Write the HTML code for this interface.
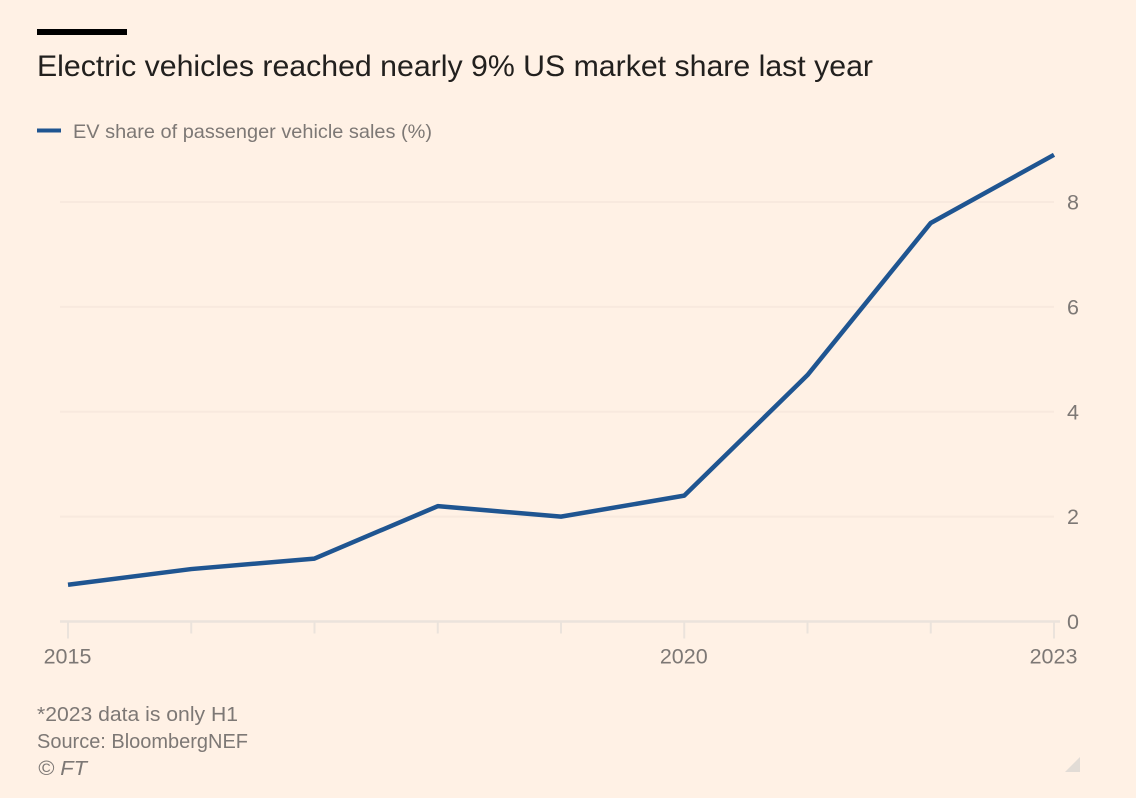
<!DOCTYPE html>
<html lang="en">
<head>
<meta charset="utf-8">
<title>Electric vehicles reached nearly 9% US market share last year</title>
<style>
html,body{margin:0;padding:0;background:#fff1e5;}
body{width:1136px;height:798px;overflow:hidden;position:relative;font-family:"Liberation Sans",sans-serif;}
svg{position:absolute;left:0;top:0;display:block;}
text{font-family:"Liberation Sans",sans-serif;}
</style>
</head>
<body>
<svg id="chart" width="1136" height="798" viewBox="0 0 1136 798" xmlns="http://www.w3.org/2000/svg">
  <rect width="1136" height="798" fill="#fff1e5"/>
  <rect x="37" y="29" width="90" height="6" fill="#000"/>
  <text x="37" y="76" font-size="29.5" fill="#22201e" textLength="836" lengthAdjust="spacingAndGlyphs">Electric vehicles reached nearly 9% US market share last year</text>
  <line x1="37" y1="130.5" x2="61" y2="130.5" stroke="#1f5591" stroke-width="4"/>
  <text x="73" y="138" font-size="19.5" fill="#7d7875" textLength="359" lengthAdjust="spacingAndGlyphs">EV share of passenger vehicle sales (%)</text>
  <g id="grid"></g>
  <g id="axes"></g>
  <path id="series" fill="none" stroke="#1f5591" stroke-width="4.5" stroke-linejoin="round"></path>
  <text x="37" y="721" font-size="20" fill="#7d7875" textLength="201" lengthAdjust="spacingAndGlyphs">*2023 data is only H1</text>
  <text x="37" y="748" font-size="20" fill="#7d7875" textLength="211" lengthAdjust="spacingAndGlyphs">Source: BloombergNEF</text>
  <text x="38" y="775" font-size="20" font-style="italic" fill="#7d7875" textLength="49" lengthAdjust="spacingAndGlyphs">© FT</text>
  <polygon points="1065,772 1080,772 1080,757" fill="#e2dcd6"/>
</svg>
<script>
const years = [2015, 2016, 2017, 2018, 2019, 2020, 2021, 2022, 2023];
const evShare = [0.7, 1.0, 1.2, 2.2, 2.0, 2.4, 4.7, 7.6, 8.9];
const yTicks = [0, 2, 4, 6, 8];
const xLabels = [2015, 2020, 2023];

const svgNS = 'http://www.w3.org/2000/svg';
const xScale = function (year) {
  return 68 + (year - 2015) * (1054 - 68) / (2023 - 2015);
};
const yScale = function (value) {
  return 621.5 - value * (621.5 - 202) / 8;
};
const gridGroup = document.getElementById('grid');
const axesGroup = document.getElementById('axes');

function makeLine(x1, y1, x2, y2, colour, width) {
  const line = document.createElementNS(svgNS, 'line');
  line.setAttribute('x1', x1);
  line.setAttribute('y1', y1);
  line.setAttribute('x2', x2);
  line.setAttribute('y2', y2);
  line.setAttribute('stroke', colour);
  line.setAttribute('stroke-width', width);
  return line;
}

function makeText(x, y, content, anchor) {
  const label = document.createElementNS(svgNS, 'text');
  label.setAttribute('x', x);
  label.setAttribute('y', y);
  label.setAttribute('font-size', '21.5');
  label.setAttribute('fill', '#7d7875');
  label.setAttribute('text-anchor', anchor);
  label.textContent = content;
  return label;
}

yTicks.forEach(function (tick) {
  if (tick !== 0) {
    const gridLine = makeLine(60, yScale(tick), 1054, yScale(tick), '#f8e9de', 2);
    
    
    gridGroup.appendChild(gridLine);
  }
  const tickLabel = makeText(1067, yScale(tick) + 7.5, String(tick), 'start');
  
  
  axesGroup.appendChild(tickLabel);
});

const baseline = makeLine(60, yScale(0), 1060, yScale(0), '#ebe3dc', 2.5);


axesGroup.appendChild(baseline);

years.forEach(function (year) {
  const isLabelled = xLabels.includes(year);
  const tickEnd = yScale(0) + (isLabelled ? 17 : 12);
  const tick = makeLine(xScale(year), yScale(0), xScale(year), tickEnd, '#ebe3dc', 2);
  
  
  axesGroup.appendChild(tick);
});

xLabels.forEach(function (year) {
  const label = makeText(xScale(year) - 0.5, 663.5, String(year), 'middle');
  
  
  axesGroup.appendChild(label);
});

document.getElementById('series').setAttribute('d', years.map(function (year, i) {
  return (i === 0 ? 'M' : 'L') + xScale(year) + ' ' + yScale(evShare[i]);
}).join(' '));
</script>
</body>
</html>
